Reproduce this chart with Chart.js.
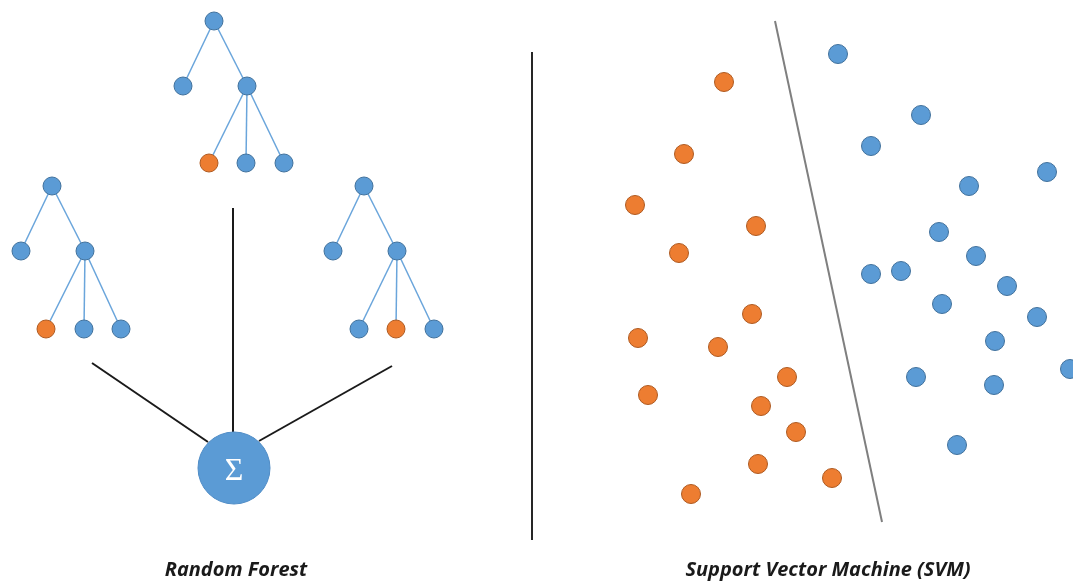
<!DOCTYPE html>
<html>
<head>
<meta charset="utf-8">
<script src="https://cdn.jsdelivr.net/npm/chart.js@4"></script>
<style>
  html, body { margin: 0; padding: 0; background: #fff; }
  #wrap { position: relative; width: 1073px; height: 583px; }
</style>
</head>
<body>
<div id="wrap"><canvas id="chart"></canvas></div>
<script>
/* ===== DATA ===== */
// tree nodes (random forest), parent = -1 for a root
const treeX      = [214, 183, 247, 209, 246, 284,  52,  21,  85,  46,  84, 121, 364, 333, 397, 359, 396, 434];
const treeY      = [ 21,  86,  86, 163, 163, 163, 186, 251, 251, 329, 329, 329, 186, 251, 251, 329, 329, 329];
const treeClass  = ["b", "b", "b", "o", "b", "b", "b", "b", "b", "o", "b", "b", "b", "b", "b", "b", "o", "b"];
const treeParent = [ -1,   0,   0,   2,   2,   2,  -1,   6,   6,   8,   8,   8,  -1,  12,  12,  14,  14,  14];

// trees -> sum node
const voteLines = [
  [[92, 363], [208, 442]],
  [[233, 208], [233, 432]],
  [[392, 366], [259, 441]]
];
const sumNode = { x: 234, y: 468, label: "Σ" };

// svm
const svmOrangeX = [724, 684, 635, 756, 679, 752, 638, 718, 787, 648, 761, 796, 758, 832, 691];
const svmOrangeY = [ 82, 154, 205, 226, 253, 314, 338, 347, 377, 395, 406, 432, 464, 478, 494];
const svmBlueX = [838, 921, 871, 1047, 969, 939, 976, 871, 901, 1007, 942, 1037, 995, 916, 994, 1070, 957];
const svmBlueY = [ 54, 115, 146,  172, 186, 232, 256, 274, 271,  286, 304,  317, 341, 377, 385,  369, 445];
const dividerLine = [[532, 52], [532, 540]];
const svmBoundary = [[775, 21], [882, 522]];

const captions = [
  { x: 236, y: 570, text: "Random Forest" },
  { x: 828, y: 570, text: "Support Vector Machine (SVM)" }
];

/* ===== STYLE ===== */
const BLUE = "#5b9bd5", BLUE_EDGE = "#41719c";
const ORANGE = "#ed7d31", ORANGE_EDGE = "#ae5a21";

const pts = (xs, ys) => xs.map((x, i) => ({ x: x, y: ys[i] }));
const seg = s => s.map(p => ({ x: p[0], y: p[1] }));

function lineSet(data, color, width) {
  return {
    type: "line", data: data, showLine: true, borderColor: color, borderWidth: width,
    pointRadius: 0, fill: false, clip: false, order: 5
  };
}

const datasets = [];

// tree edges
treeParent.forEach((p, i) => {
  if (p < 0) return;
  datasets.push(lineSet([{ x: treeX[p], y: treeY[p] }, { x: treeX[i], y: treeY[i] }], "#6aa5db", 1.5));
});
voteLines.forEach(l => datasets.push(lineSet(seg(l), "#1a1a1a", 2)));
datasets.push(lineSet(seg(dividerLine), "#262626", 2));
datasets.push(lineSet(seg(svmBoundary), "#7f7f7f", 2));

function dotSet(data, fill, edge, r) {
  return {
    type: "scatter", data: data, backgroundColor: fill, borderColor: edge, borderWidth: 1,
    pointRadius: r, pointHoverRadius: r, clip: false, order: 1
  };
}

const treeAll = pts(treeX, treeY);
datasets.push(dotSet(treeAll.filter((_, i) => treeClass[i] === "b"), BLUE, BLUE_EDGE, 9));
datasets.push(dotSet(treeAll.filter((_, i) => treeClass[i] === "o"), ORANGE, ORANGE_EDGE, 9));
datasets.push(dotSet([{ x: sumNode.x, y: sumNode.y }], BLUE, "#4f8cc6", 36));
datasets.push(dotSet(pts(svmOrangeX, svmOrangeY), ORANGE, ORANGE_EDGE, 9.5));
datasets.push(dotSet(pts(svmBlueX, svmBlueY), BLUE, BLUE_EDGE, 9.5));

/* ===== TEXT PLUGIN ===== */
const textPlugin = {
  id: "texts",
  afterDatasetsDraw(chart) {
    const { ctx, scales } = chart;
    ctx.save();
    ctx.textAlign = "center";
    ctx.textBaseline = "middle";

    ctx.fillStyle = "#ffffff";
    ctx.font = "32px 'Liberation Serif', 'DejaVu Serif', serif";
    ctx.fillText(sumNode.label, scales.x.getPixelForValue(sumNode.x), scales.y.getPixelForValue(sumNode.y + 4));

    ctx.fillStyle = "#1a1a1a";
    ctx.font = "italic 700 20px 'Open Sans', Lato, sans-serif";
    captions.forEach(c => {
      ctx.fillText(c.text, scales.x.getPixelForValue(c.x), scales.y.getPixelForValue(c.y));
    });
    ctx.restore();
  }
};

new Chart(document.getElementById("chart"), {
  type: "scatter",
  data: { datasets: datasets },
  options: {
    responsive: true,
    maintainAspectRatio: false,
    animation: false,
    layout: { padding: 0, autoPadding: false },
    plugins: { legend: { display: false }, tooltip: { enabled: false } },
    scales: {
      x: { type: "linear", min: 0, max: 1073, display: false },
      y: { type: "linear", min: 0, max: 583, reverse: true, display: false }
    }
  },
  plugins: [textPlugin]
});
</script>
</body>
</html>
